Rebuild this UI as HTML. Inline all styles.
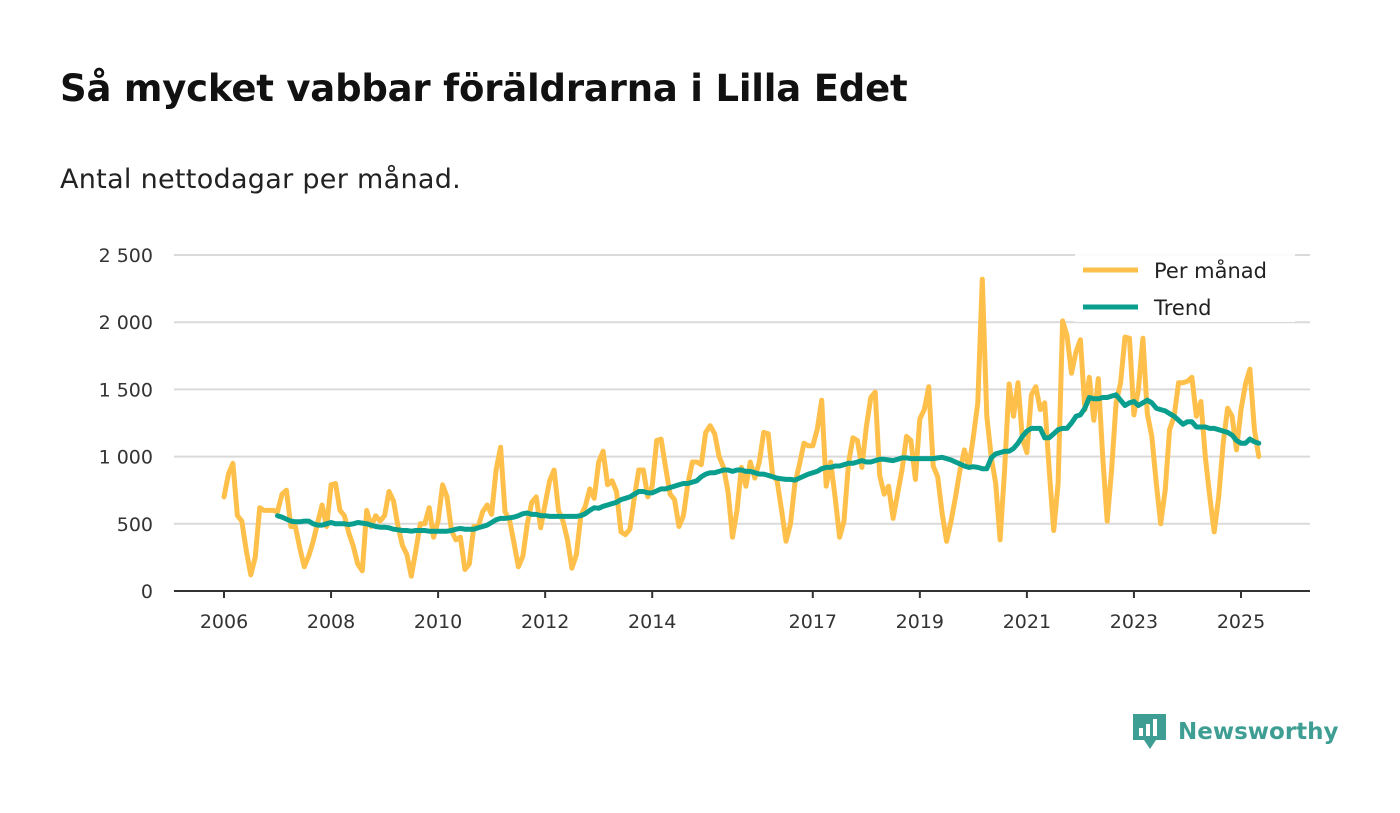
<!DOCTYPE html>
<html><head><meta charset="utf-8"><style>
body{margin:0;width:1400px;height:813px;background:#fff;font-family:"DejaVu Sans","Liberation Sans",sans-serif;overflow:hidden;position:relative}
h1{position:absolute;left:60px;top:67px;margin:0;font-size:37px;font-weight:bold;color:#111;letter-spacing:-0.2px}
.sub{position:absolute;left:60px;top:164px;font-size:27px;color:#222;letter-spacing:0.3px}
svg{position:absolute;left:0;top:0;font-family:"DejaVu Sans","Liberation Sans",sans-serif}
</style></head><body>
<h1>Så mycket vabbar föräldrarna i Lilla Edet</h1>
<div class="sub">Antal nettodagar per månad.</div>
<svg id="c" width="1400" height="813"></svg>
<script>
const yTicks=[0,500,1000,1500,2000,2500];
const yTickLabels=["0","500","1 000","1 500","2 000","2 500"];
const xTickYears=[2006,2008,2010,2012,2014,2017,2019,2021,2023,2025];
const monthly=[
700,870,950,560,520,300,120,250,620,600,600,600,
590,720,750,480,480,320,180,260,370,510,640,480,
790,800,600,560,430,330,200,150,600,480,560,520,
560,740,670,480,340,270,110,300,500,500,620,400,
520,790,700,450,380,400,160,200,480,480,590,640,
570,900,1070,590,530,360,180,260,500,660,700,470,
650,820,900,600,520,380,170,270,560,630,760,690,
960,1040,790,820,740,440,420,460,700,900,900,700,
780,1120,1130,920,720,680,480,560,800,960,960,940,
1180,1230,1170,1000,920,740,400,600,920,780,960,840,
960,1180,1170,860,820,600,370,500,800,940,1100,1080,
1080,1200,1420,780,960,700,400,520,950,1140,1120,920,
1220,1440,1480,860,720,780,540,720,900,1150,1120,830,
1280,1350,1520,930,850,580,370,520,700,900,1050,920,
1150,1400,2320,1300,1000,800,380,900,1540,1300,1550,1130,
1030,1460,1520,1350,1400,900,450,800,2010,1900,1620,1780,
1870,1350,1590,1270,1580,1000,520,900,1400,1550,1890,1880,
1310,1500,1880,1320,1150,800,500,750,1200,1300,1550,1550,
1560,1590,1300,1410,1000,700,440,700,1100,1360,1300,1050,
1350,1540,1650,1200,1000];
const trend=[
560,550,535,520,515,515,520,520,500,490,490,500,
510,500,500,500,495,500,510,505,500,490,480,475,
475,470,460,455,450,450,445,450,450,450,445,445,
445,445,445,450,460,465,460,460,460,470,480,490,
510,530,540,540,545,550,560,575,580,570,570,560,
560,555,555,555,555,555,555,555,560,575,600,620,
615,630,640,650,660,680,690,700,720,740,740,730,
730,745,760,760,770,780,790,800,800,810,820,850,
870,880,880,890,900,900,890,900,900,890,890,880,
870,870,860,850,840,835,830,830,825,840,855,870,
880,890,910,920,920,930,930,940,950,950,960,970,
960,960,970,980,980,975,970,980,990,990,985,985,
985,985,985,985,990,995,985,975,960,945,930,920,
925,920,910,910,990,1020,1030,1040,1040,1060,1100,1150,
1190,1210,1210,1210,1140,1140,1170,1200,1210,1210,1250,1300,
1310,1360,1440,1430,1430,1440,1440,1450,1460,1420,1380,1400,
1410,1380,1400,1420,1400,1360,1350,1340,1320,1300,1270,1240,
1260,1260,1220,1220,1220,1210,1210,1200,1190,1180,1160,1120,
1100,1100,1130,1110,1100];
const startYear=2006, trendStart=2007;
const NS="http://www.w3.org/2000/svg", svg=document.getElementById('c');
const X=t=>224+(t-2006)*(1241-224)/19;
const Y=v=>591-v*336/2500;
function mk(tag,a,txt){const e=document.createElementNS(NS,tag);for(const k in a)e.setAttribute(k,a[k]);if(txt!==undefined)e.textContent=txt;svg.appendChild(e);return e;}
yTicks.forEach((v,i)=>{
 if(v>0){const g=mk('line',{x1:174,x2:1310,y1:Y(v),y2:Y(v),stroke:'#dadada','stroke-width':2});
 
 }
 const t=mk('text',{x:153,y:Y(v)+7,'text-anchor':'end','font-size':19,fill:'#333'},yTickLabels[i]);
 
 
});
const ax=mk('line',{x1:174,x2:1310,y1:591,y2:591,stroke:'#333','stroke-width':2});


xTickYears.forEach(yr=>{
 const tk=mk('line',{x1:X(yr),x2:X(yr),y1:591,y2:598,stroke:'#333','stroke-width':2});
 
 
 const t=mk('text',{x:X(yr),y:628,'text-anchor':'middle','font-size':19,fill:'#333'},yr);
 
 
});
function line(arr,sy,col,name){
 const d=arr.map((v,i)=>(i?'L':'M')+X(sy+i/12).toFixed(1)+','+Y(v).toFixed(1)).join('');
 const p=mk('path',{d:d,fill:'none',stroke:col,'stroke-width':5,'stroke-linejoin':'round','stroke-linecap':'round'});
 
 
}
line(monthly,startYear,'#fec04a','monthly-line');
line(trend,trendStart,'#0a9e8e','trend-line');
const lb=mk('rect',{x:1075,y:250,width:220,height:72,fill:'#fff',opacity:0.9});


[['Per månad','#fec04a',270],['Trend','#0a9e8e',307]].forEach(([n,c,y])=>{
 const l=mk('line',{x1:1083,x2:1138,y1:y,y2:y,stroke:c,'stroke-width':5});
 
 
 const t=mk('text',{x:1154,y:y+8,'font-size':21,fill:'#222'},n);
 
 
});
const lg=mk('g',{});


lg.innerHTML='<path d="M1133 714h33v26h-10l-6 9-6-9h-11z" fill="#3f9e94"/><rect x="1139" y="728" width="4" height="8" fill="#fff"/><rect x="1146" y="724" width="4" height="12" fill="#fff"/><rect x="1153" y="719" width="4" height="17" fill="#fff"/><text x="1178" y="739" font-size="23" font-weight="bold" fill="#3f9e94">Newsworthy</text>';
</script>
</body></html>
